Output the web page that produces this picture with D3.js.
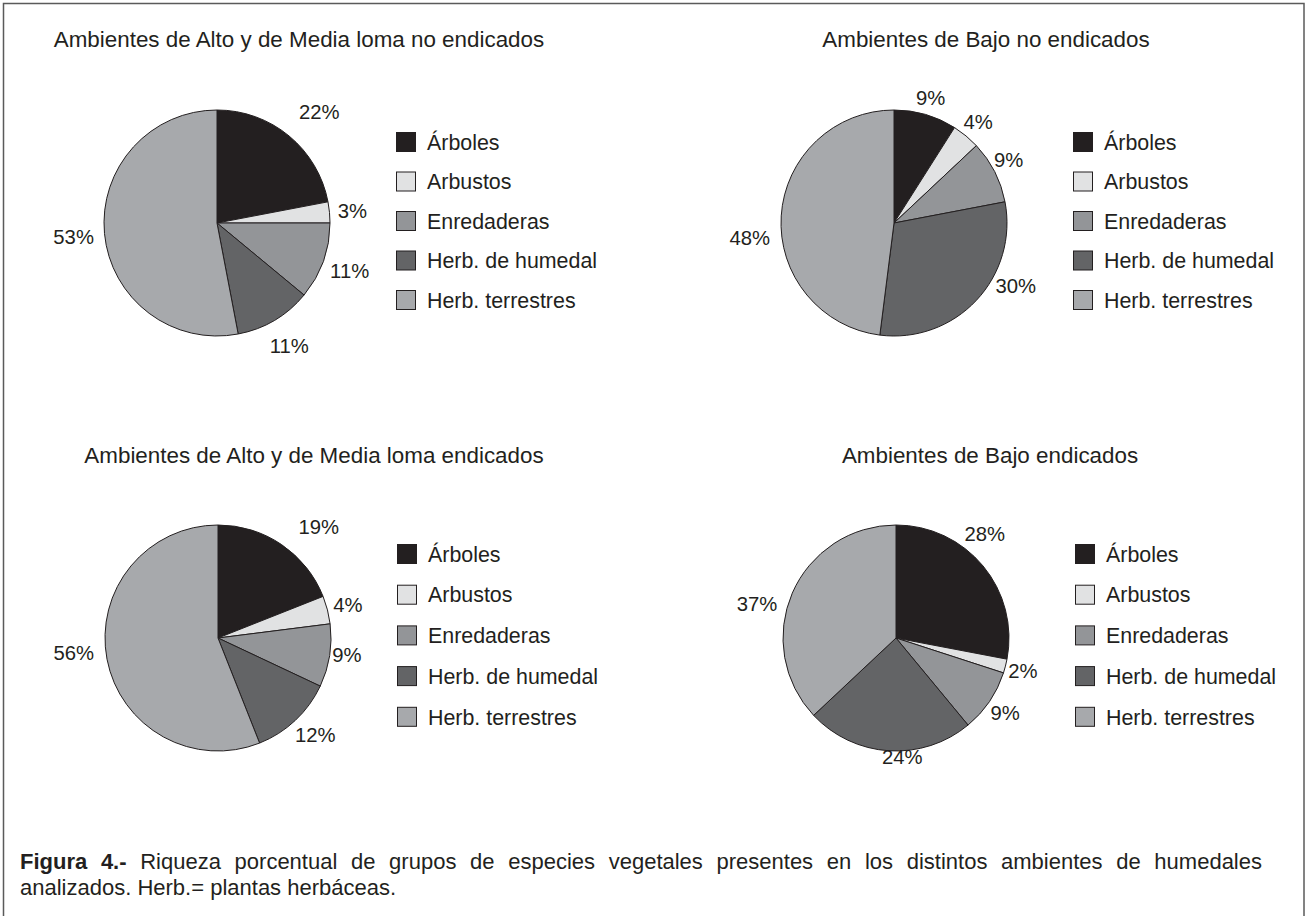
<!DOCTYPE html>
<html>
<head>
<meta charset="utf-8">
<script src="https://cdn.jsdelivr.net/npm/d3@7"></script>
<style>
  html, body { margin: 0; padding: 0; background: #fff; }
  svg { display: block; font-family: "Liberation Sans", Arial, Helvetica, sans-serif; }
</style>
</head>
<body>
<svg id="chart" width="1305" height="916"></svg>
<script>
// ---- DATA ----
const categories = ["Árboles", "Arbustos", "Enredaderas", "Herb. de humedal", "Herb. terrestres"];
const titles = [
  "Ambientes de Alto y de Media loma no endicados",
  "Ambientes de Bajo no endicados",
  "Ambientes de Alto y de Media loma endicados",
  "Ambientes de Bajo endicados"
];
const altoNoEndicados = [22, 3, 11, 11, 53];
const bajoNoEndicados = [9, 4, 9, 30, 48];
const altoEndicados   = [19, 4, 9, 12, 56];
const bajoEndicados   = [28, 2, 9, 24, 37];
const captionBold = "Figura 4.-";
const captionLine1 = "Riqueza porcentual de grupos de especies vegetales presentes en los distintos ambientes de humedales";
const captionLine2 = "analizados. Herb.= plantas herbáceas.";

// ---- STYLE / LAYOUT ----
const colors = ["#231f20", "#e1e2e3", "#939598", "#636466", "#a7a9ac"];
const ink = "#231f20";
const radius = 113;
const panels = [
  { values: altoNoEndicados, cx: 217, cy: 223, titleX: 299, titleY: 47, legTop: 132, legStep: 39.5,
    nudge: [[3, 11], [0, -4], [0, 1], [0, 2], [0, 4]] },
  { values: bajoNoEndicados, cx: 894, cy: 223, titleX: 986, titleY: 47, legTop: 132, legStep: 39.5,
    nudge: [[0, -9], [0, -8], [-2, -9], [-16, -3], [-9.6, 5]] },
  { values: altoEndicados, cx: 218, cy: 638, titleX: 314, titleY: 463, legTop: 544, legStep: 40.7,
    nudge: [[8, 10], [0, -6], [-1.5, -10], [-2, -3], [5, 5]] },
  { values: bajoEndicados, cx: 896, cy: 638, titleX: 990, titleY: 463, legTop: 544, legStep: 40.7,
    nudge: [[-10, -3], [0, -9], [0, -8], [-6.6, -21], [-9.7, 3]] }
];
const labelBase = radius + 27;
const captionLeft = 20, captionRight = 1262, captionSize = 22;

const svg = d3.select("#chart");

// frame
svg.append("rect")
  .attr("x", 3.5).attr("y", 3.5)
  .attr("width", 1300.5).attr("height", 930)
  .attr("fill", "none").attr("stroke", "#5a5a5a").attr("stroke-width", 1.5);

const pie = d3.pie().sort(null).value(d => d);
const arc = d3.arc().innerRadius(0).outerRadius(radius);

panels.forEach((p, pi) => {
  svg.append("text")
    .attr("x", p.titleX).attr("y", p.titleY)
    .attr("text-anchor", "middle")
    .attr("font-size", 22.4).attr("fill", ink)
    .text(titles[pi]);

  const g = svg.append("g").attr("transform", `translate(${p.cx},${p.cy})`);
  const arcs = pie(p.values);

  g.selectAll("path.slice").data(arcs).join("path")
    .attr("class", "slice")
    .attr("d", arc)
    .attr("fill", (d, i) => colors[i])
    .attr("stroke", ink).attr("stroke-width", 1)
    .attr("stroke-linejoin", "round");

  g.selectAll("text.pct").data(arcs).join("text")
    .attr("class", "pct")
    .attr("transform", (d, i) => {
      const a = (d.startAngle + d.endAngle) / 2 + p.nudge[i][0] * Math.PI / 180;
      const dist = labelBase + p.nudge[i][1];
      return `translate(${Math.sin(a) * dist},${-Math.cos(a) * dist})`;
    })
    .attr("text-anchor", "middle")
    .attr("dy", "0.36em")
    .attr("font-size", 20.3).attr("fill", ink)
    .text(d => d.data + "%");

  const leg = svg.append("g").attr("transform", `translate(${p.cx + 179},${p.legTop})`);
  const rows = leg.selectAll("g").data(categories).join("g")
    .attr("transform", (d, i) => `translate(0,${i * p.legStep})`);
  rows.append("rect")
    .attr("x", 0.5).attr("y", 0.5).attr("width", 19).attr("height", 19)
    .attr("fill", (d, i) => colors[i])
    .attr("stroke", ink).attr("stroke-width", 1);
  rows.append("text")
    .attr("x", 31).attr("y", 10).attr("dy", "0.36em")
    .attr("font-size", 21.4).attr("fill", ink)
    .text(d => d);
});

// caption: first line justified to the column width, as in the printed figure
const words = (captionBold + " " + captionLine1).split(" ");
const capG = svg.append("g");
const wordNodes = words.map((w, i) => capG.append("text")
  .attr("y", 869).attr("font-size", captionSize).attr("fill", ink)
  .attr("font-weight", i < 2 ? "bold" : null)
  .text(w));
const widths = wordNodes.map(n => n.node().getComputedTextLength());
const gap = (captionRight - captionLeft - d3.sum(widths)) / (words.length - 1);
let xPos = captionLeft;
wordNodes.forEach((n, i) => { n.attr("x", xPos); xPos += widths[i] + gap; });
svg.append("text").attr("x", captionLeft).attr("y", 895).attr("font-size", captionSize).attr("fill", ink).text(captionLine2);
</script>
</body>
</html>
